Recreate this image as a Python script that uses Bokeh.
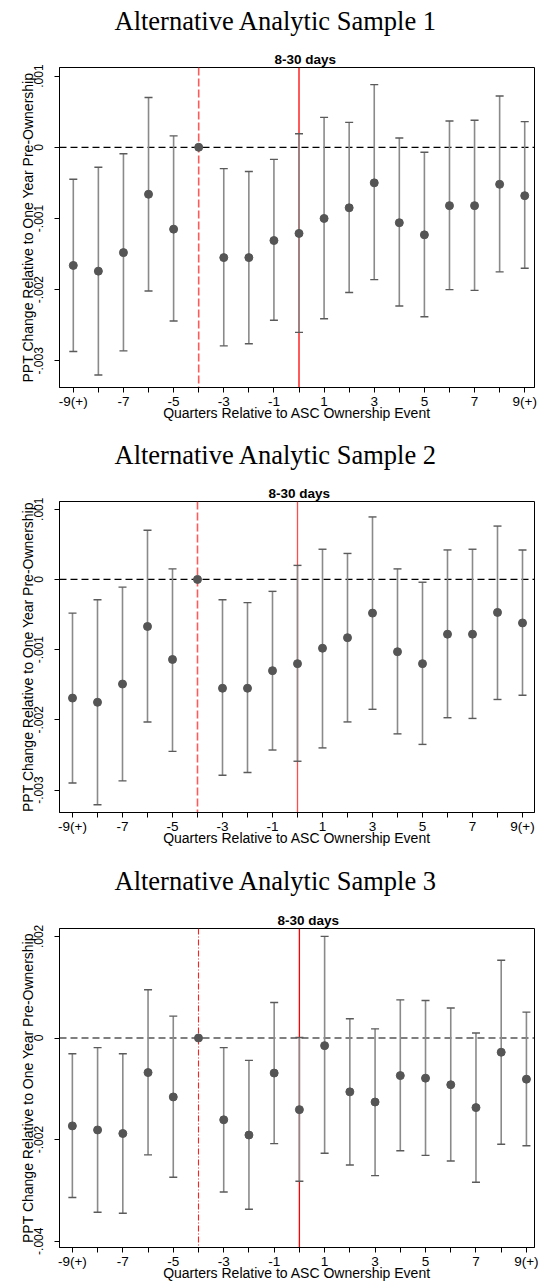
from bokeh.plotting import figure
from bokeh.models import Span, Whisker, TeeHead, ColumnDataSource, FixedTicker, Range1d
from bokeh.layouts import column
from bokeh.embed import file_html
from bokeh.resources import INLINE

nan = float("nan")

# ---------------- data ----------------
quarters = list(range(-9, 10))
x_tick_labels = ["-9(+)", "", "-7", "", "-5", "", "-3", "", "-1", "",
                 "1", "", "3", "", "5", "", "7", "", "9(+)"]

titles = ["Alternative Analytic Sample 1", "Alternative Analytic Sample 2",
          "Alternative Analytic Sample 3"]
subtitle = "8-30 days"
x_title = "Quarters Relative to ASC Ownership Event"
y_title = "PPT Change Relative to One Year Pre-Ownership"

y_ticks_12 = [0.001, 0.0, -0.001, -0.002, -0.003]
y_labels_12 = [".001", "0", "-.001", "-.002", "-.003"]
y_ticks_3 = [0.002, 0.0, -0.002, -0.004]
y_labels_3 = [".002", "0", "-.002", "-.004"]

s1_coef = [-0.00166, -0.00174, -0.00148, -0.00066, -0.00115, 0.0, -0.00155, -0.00155, -0.00131,
           -0.00121, -0.00100, -0.00085, -0.00050, -0.00106, -0.00123, -0.00082, -0.00082, -0.00052, -0.00068]
s1_upper = [-0.00045, -0.00028, -0.00009, 0.00070, 0.00016, nan, -0.00030, -0.00034, -0.00017,
            0.00019, 0.00042, 0.00035, 0.00088, 0.00013, -0.00007, 0.00037, 0.00038, 0.00072, 0.00036]
s1_lower = [-0.00287, -0.00320, -0.00286, -0.00202, -0.00244, nan, -0.00279, -0.00276, -0.00243,
            -0.00260, -0.00241, -0.00204, -0.00186, -0.00223, -0.00238, -0.00200, -0.00201, -0.00175, -0.00170]

s2_coef = [-0.00169, -0.00175, -0.00149, -0.00067, -0.00114, 0.0, -0.00155, -0.00155, -0.00130,
           -0.00120, -0.00098, -0.00083, -0.00048, -0.00103, -0.00120, -0.00078, -0.00078, -0.00047, -0.00062]
s2_upper = [-0.00048, -0.00029, -0.00011, 0.00070, 0.00015, nan, -0.00029, -0.00033, -0.00017,
            0.00020, 0.00043, 0.00037, 0.00089, 0.00015, -0.00004, 0.00042, 0.00043, 0.00076, 0.00042]
s2_lower = [-0.00290, -0.00321, -0.00287, -0.00203, -0.00245, nan, -0.00279, -0.00275, -0.00243,
            -0.00259, -0.00240, -0.00203, -0.00185, -0.00220, -0.00235, -0.00197, -0.00198, -0.00171, -0.00165]

s3_coef = [-0.00173, -0.00181, -0.00188, -0.00068, -0.00116, 0.0, -0.00161, -0.00191, -0.00069,
           -0.00141, -0.00015, -0.00106, -0.00126, -0.00074, -0.00079, -0.00092, -0.00137, -0.00028, -0.00081]
s3_upper = [-0.00031, -0.00019, -0.00031, 0.00095, 0.00043, nan, -0.00019, -0.00044, 0.00070,
            0.00001, 0.00200, 0.00038, 0.00018, 0.00075, 0.00074, 0.00059, 0.00010, 0.00153, 0.00051]
s3_lower = [-0.00314, -0.00343, -0.00345, -0.00230, -0.00274, nan, -0.00303, -0.00337, -0.00208,
            -0.00282, -0.00227, -0.00250, -0.00271, -0.00222, -0.00231, -0.00242, -0.00284, -0.00209, -0.00212]

# ---------------- layout (page pixel geometry) ----------------
PAGE_W = 540
TOP_BORDER = 24
FONT = "Liberation Sans"
SERIF = "Liberation Serif"


def make_strip(title, h, standoff):
    """Header strip whose own title is the panel's main title."""
    s = figure(width=PAGE_W, height=h, x_range=Range1d(0, 1), y_range=Range1d(0, 1),
               output_backend="svg", toolbar_location=None, min_border=0,
               x_axis_location=None, y_axis_location=None, title=title)
    s.outline_line_color = None
    s.grid.visible = False
    s.background_fill_color = "white"
    s.border_fill_color = "white"
    s.title.text_font = SERIF
    s.title.text_font_size = "26.5px"
    s.title.text_font_style = "normal"
    s.title.text_color = "black"
    s.title.align = "left"
    s.title.offset = 55
    s.title.vertical_align = "bottom"
    s.title.standoff = standoff
    return s


def make_panel(coef, upper, lower, yticks, ylabels, xr, yr, geo, ref_style):
    fig_h, L, R, B_border = geo
    p = figure(width=PAGE_W, height=fig_h,
               x_range=Range1d(*xr), y_range=Range1d(*yr),
               output_backend="svg", toolbar_location=None,
               min_border_left=L, min_border_right=PAGE_W - R,
               min_border_top=TOP_BORDER, min_border_bottom=B_border)
    p.background_fill_color = "white"
    p.border_fill_color = "white"
    p.outline_line_color = "black"
    p.outline_line_width = 1
    p.xgrid.visible = False
    p.ygrid.visible = False

    # subtitle
    p.title.text = subtitle
    p.title.text_font = FONT
    p.title.text_font_size = "13.5px"
    p.title.text_font_style = "bold"
    p.title.text_color = "black"
    p.title.align = "left"
    p.title.offset = 268 - L
    p.title.standoff = 2

    # x axis
    xa = p.xaxis[0]
    xa.ticker = FixedTicker(ticks=quarters)
    xa.major_label_overrides = dict(zip(quarters, x_tick_labels))
    xa.major_tick_out = 5
    xa.major_tick_in = 0
    xa.minor_tick_out = 0
    xa.axis_line_color = "black"
    xa.major_tick_line_color = "black"
    xa.major_label_text_font = FONT
    xa.major_label_text_font_size = "13.5px"
    xa.major_label_text_color = "black"
    xa.major_label_standoff = 1
    xa.axis_label = x_title
    xa.axis_label_text_font = FONT
    xa.axis_label_text_font_size = "14px"
    xa.axis_label_text_font_style = "normal"
    xa.axis_label_text_color = "black"
    xa.axis_label_standoff = -7

    # y axis
    ya = p.yaxis[0]
    ya.ticker = FixedTicker(ticks=yticks)
    ya.major_label_overrides = dict(zip(yticks, ylabels))
    ya.major_label_orientation = "vertical"
    ya.major_tick_out = 5
    ya.major_tick_in = 0
    ya.minor_tick_out = 0
    ya.axis_line_color = "black"
    ya.major_tick_line_color = "black"
    ya.major_label_text_font = FONT
    ya.major_label_text_font_size = "12px"
    ya.major_label_text_color = "black"
    ya.major_label_standoff = 11
    ya.axis_label = y_title
    ya.axis_label_text_font = FONT
    ya.axis_label_text_font_size = "14px"
    ya.axis_label_text_font_style = "normal"
    ya.axis_label_text_color = "black"
    ya.axis_label_standoff = -4

    # reference lines
    p.add_layout(Span(location=0, dimension="width", line_color="black",
                      line_width=1.2, line_dash="7 4", level="underlay"))
    dash_col, dash_pat, dash_w, solid_col = ref_style
    p.add_layout(Span(location=-4, dimension="height", line_color=dash_col,
                      line_width=dash_w, line_dash=dash_pat, level="underlay"))
    p.add_layout(Span(location=0, dimension="height", line_color=solid_col,
                      line_width=1.3, level="underlay"))

    src = ColumnDataSource(dict(q=quarters, coef=coef, upper=upper, lower=lower))
    p.add_layout(Whisker(source=src, base="q", upper="upper", lower="lower",
                         dimension="height", line_color="#8a8a8a", line_width=1.6,
                         level="underlay",
                         upper_head=TeeHead(size=8, line_color="#5a5a5a", line_width=1.4),
                         lower_head=TeeHead(size=8, line_color="#5a5a5a", line_width=1.4)))
    p.scatter("q", "coef", source=src, size=8, fill_color="#555555",
              line_color="#555555")
    return p


# strip heights / title standoffs; panel heights, frame left/right, bottom border
h1 = make_strip(titles[0], 67 - TOP_BORDER, 7)
p1 = make_panel(s1_coef, s1_upper, s1_lower, y_ticks_12, y_labels_12,
                (-9.55, 9.39), (-0.003375, 0.001121),
                (432 - (67 - TOP_BORDER), 53, 537, 45),
                ("#ff5a5a", "8 3", 1.6, "#ff0000"))
h2 = make_strip(titles[1], 69 - TOP_BORDER, 11)
p2 = make_panel(s2_coef, s2_upper, s2_lower, y_ticks_12, y_labels_12,
                (-9.52, 9.48), (-0.00332, 0.00111),
                (426 - (69 - TOP_BORDER), 59, 534, 46),
                ("#ff5a5a", "8 3", 1.6, "#ff4d4d"))
h3 = make_strip(titles[2], 70 - TOP_BORDER, 10)
p3 = make_panel(s3_coef, s3_upper, s3_lower, y_ticks_3, y_labels_3,
                (-9.51, 9.32), (-0.004124, 0.002156),
                (429 - (70 - TOP_BORDER), 50, 540, 40),
                ("#ff2020", "6 2 1 2", 1.1, "#ff0000"))

layout = column(h1, p1, h2, p2, h3, p3, spacing=0)
open("out.html", "w").write(file_html(layout, INLINE))
